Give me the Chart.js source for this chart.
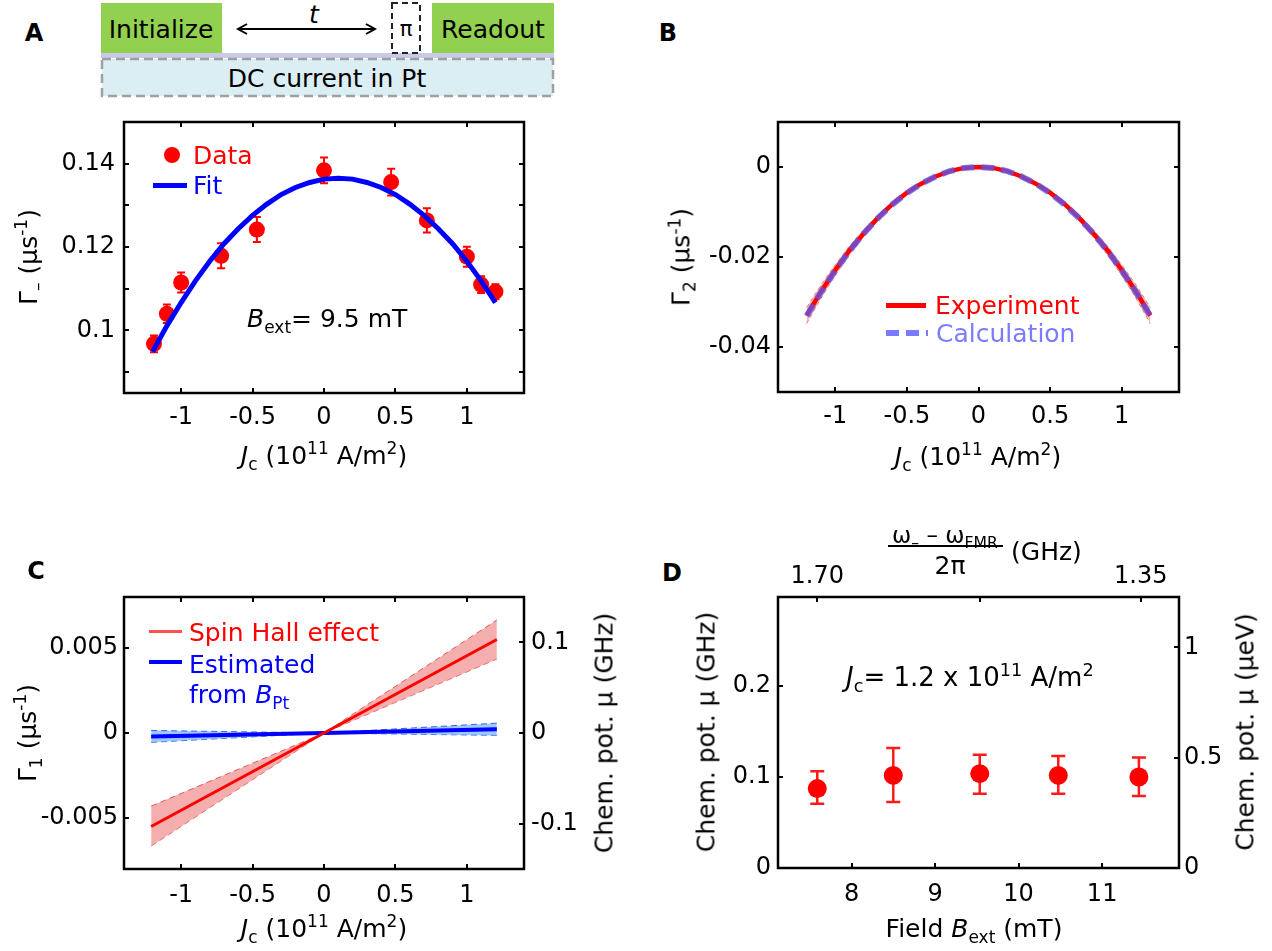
<!DOCTYPE html>
<html><head><meta charset="utf-8">
<script src="https://cdn.jsdelivr.net/npm/chart.js@4.4.1/dist/chart.umd.min.js"></script>
<style>
body{margin:0;background:#fff;}
#fig{position:relative;width:1272px;height:951px;overflow:hidden;font-family:'DejaVu Sans',sans-serif;color:#000;background:#fff;}
canvas{position:absolute;}
.t{position:absolute;white-space:nowrap;font-size:25px;line-height:1;}
.c{transform:translate(-50%,-50%);}
.r{transform:translate(-50%,-50%) rotate(-90deg);}
.lm{transform:translate(0,-50%);}
sub,sup{font-size:68%;line-height:0;}
.lab{font-weight:bold;font-size:24px;}
.ln{position:absolute;}
</style></head><body><div id="fig">

<!-- pulse sequence diagram -->
<svg style="position:absolute;left:0;top:0" width="640" height="110">
  <rect x="101" y="3" width="121" height="50" fill="#92d050"/>
  <rect x="432" y="3" width="122" height="50" fill="#92d050"/>
  <rect x="101" y="53" width="453" height="5" fill="#c9c9e9"/>
  <rect x="102" y="59" width="451" height="37" fill="#daeef3" stroke="#a0a0a0" stroke-width="2.5" stroke-dasharray="9,5"/>
  <rect x="392" y="3" width="28" height="50" fill="#fff" stroke="#222" stroke-width="2" stroke-dasharray="6,4"/>
  <line x1="238" y1="29" x2="375" y2="29" stroke="#000" stroke-width="2"/>
  <polyline points="247,24 238,29 247,34" fill="none" stroke="#000" stroke-width="2"/>
  <polyline points="366,24 375,29 366,34" fill="none" stroke="#000" stroke-width="2"/>
</svg>
<div class="t c" style="left:161px;top:29px;">Initialize</div>
<div class="t c" style="left:493px;top:29px;">Readout</div>
<div class="t c" style="left:406px;top:29px;font-size:21px;">π</div>
<div class="t c" style="left:314px;top:14px;font-style:italic;">t</div>
<div class="t c" style="left:327px;top:78px;">DC current in Pt</div>

<canvas id="cA" width="570" height="381" style="left:34px;top:62px"></canvas>
<canvas id="cB" width="571" height="380" style="left:688px;top:62px"></canvas>
<canvas id="cC" width="570" height="382" style="left:34px;top:537px"></canvas>
<canvas id="cD" width="571" height="381" style="left:688px;top:537px"></canvas>

<!-- panel letters -->
<div class="t c lab" style="left:34px;top:33px;">A</div>
<div class="t c lab" style="left:668px;top:33px;">B</div>
<div class="t c lab" style="left:36px;top:571px;">C</div>
<div class="t c lab" style="left:672px;top:573px;">D</div>

<!-- Panel A text -->
<div class="t r" style="left:28px;top:257px;">Γ<sub>–</sub> (μs<sup>-1</sup>)</div>
<div class="t c" style="left:324px;top:455px;"><i>J</i><sub>c</sub> (10<sup>11</sup> A/m<sup>2</sup>)</div>
<div class="t lm" style="left:247px;top:318px;"><i>B</i><sub>ext</sub>= 9.5 mT</div>
<div class="ln" style="left:164px;top:147px;width:16px;height:16px;border-radius:50%;background:#ff0000;"></div>
<div class="t lm" style="left:193px;top:155px;color:#ff0000;">Data</div>
<div class="ln" style="left:153px;top:183px;width:34px;height:5px;background:#0000ff;"></div>
<div class="t lm" style="left:193px;top:185px;color:#0000ff;">Fit</div>

<!-- Panel B text -->
<div class="t r" style="left:681px;top:257px;">Γ<sub>2</sub> (μs<sup>-1</sup>)</div>
<div class="t c" style="left:978px;top:456px;"><i>J</i><sub>c</sub> (10<sup>11</sup> A/m<sup>2</sup>)</div>
<div class="ln" style="left:886px;top:303px;width:40px;height:5px;background:#ff0000;"></div>
<div class="t lm" style="left:935px;top:305px;color:#ff0000;">Experiment</div>
<svg style="position:absolute;left:884px;top:328px" width="46" height="10"><line x1="2" y1="5" x2="44" y2="5" stroke="rgba(100,100,255,0.85)" stroke-width="6" stroke-dasharray="13,7"/></svg>
<div class="t lm" style="left:936px;top:333px;color:#7b7bff;">Calculation</div>

<!-- Panel C text -->
<div class="t r" style="left:27px;top:733px;">Γ<sub>1</sub> (μs<sup>-1</sup>)</div>
<div class="t r" style="left:604px;top:733px;">Chem. pot. μ (GHz)</div>
<div class="t c" style="left:324px;top:928px;"><i>J</i><sub>c</sub> (10<sup>11</sup> A/m<sup>2</sup>)</div>
<div class="ln" style="left:149px;top:630px;width:33px;height:3px;background:#ff5050;"></div>
<div class="t lm" style="left:189px;top:632px;color:#ff0000;">Spin Hall effect</div>
<div class="ln" style="left:149px;top:660px;width:33px;height:4px;background:#0000ff;"></div>
<div class="t lm" style="left:189px;top:664px;color:#0000ff;">Estimated</div>
<div class="t lm" style="left:189px;top:694px;color:#0000ff;">from <i>B</i><sub>Pt</sub></div>

<!-- Panel D text -->
<div class="t r" style="left:706px;top:732px;">Chem. pot. μ (GHz)</div>
<div class="t r" style="left:1245px;top:732px;">Chem. pot. μ (μeV)</div>
<div class="t c" style="left:974px;top:928px;">Field <i>B</i><sub>ext</sub> (mT)</div>
<div class="t lm" style="left:846px;top:677px;font-size:26px;"><i>J</i><sub>c</sub>= 1.2 x 10<sup>11</sup> A/m<sup>2</sup></div>
<div class="t c" style="left:945px;top:535px;font-size:23px;">ω<sub>–</sub> – ω<sub>FMR</sub></div>
<div class="ln" style="left:888px;top:545px;width:115px;height:2px;background:#000;"></div>
<div class="t c" style="left:950px;top:565px;">2π</div>
<div class="t lm" style="left:1011px;top:551px;">(GHz)</div>

</div>
<script>
const FONT = "'DejaVu Sans', sans-serif";
const TICK_SIZE = 24;

// ---------- Panel A : Gamma_- vs Jc ----------
const A_jc    = [-1.19, -1.10, -1.00, -0.72, -0.47, 0.00, 0.47, 0.72, 1.00, 1.10, 1.20];
const A_gamma = [0.0968, 0.1040, 0.1115, 0.1179, 0.1242, 0.1384, 0.1356, 0.1264, 0.1177, 0.1110, 0.1093];
const A_err   = [0.0020, 0.0022, 0.0024, 0.0030, 0.0030, 0.0031, 0.0032, 0.0029, 0.0024, 0.0020, 0.0018];
const A_fitJc = [-1.2,-1.1,-1.0,-0.9,-0.8,-0.7,-0.6,-0.5,-0.4,-0.3,-0.2,-0.1,0,0.1,0.2,0.3,0.4,0.5,0.6,0.7,0.8,0.9,1.0,1.1,1.2];
const A_fit   = [0.0949,0.1011,0.1067,0.1119,0.1166,0.1208,0.1244,0.1276,0.1303,0.1326,0.1343,0.1355,0.1363,0.1365,0.1363,0.1355,0.1343,0.1326,0.1303,0.1276,0.1244,0.1208,0.1166,0.1119,0.1067];
const A_xTicks = [-1, -0.5, 0, 0.5, 1];
const A_xLabels = ['-1', '-0.5', '0', '0.5', '1'];
const A_yTicks = [0.09, 0.10, 0.11, 0.12, 0.13, 0.14];
const A_yLabels = ['', '0.1', '', '0.12', '', '0.14'];

// ---------- Panel B : Gamma_2 vs Jc ----------
const B_jc   = [-1.2,-1.1,-1.0,-0.9,-0.8,-0.7,-0.6,-0.5,-0.4,-0.3,-0.2,-0.1,0,0.1,0.2,0.3,0.4,0.5,0.6,0.7,0.8,0.9,1.0,1.1,1.2];
const B_exp  = [-0.0330,-0.0277,-0.0229,-0.0185,-0.0147,-0.0112,-0.0082,-0.0057,-0.0037,-0.0021,-0.0009,-0.0002,0.0000,-0.0002,-0.0009,-0.0021,-0.0037,-0.0057,-0.0082,-0.0112,-0.0147,-0.0185,-0.0229,-0.0277,-0.0330];
const B_expHi= [-0.0312,-0.0262,-0.0217,-0.0175,-0.0139,-0.0106,-0.0077,-0.0053,-0.0034,-0.0019,-0.0007,-0.0001,0.0001,-0.0001,-0.0007,-0.0019,-0.0034,-0.0053,-0.0077,-0.0106,-0.0139,-0.0175,-0.0217,-0.0262,-0.0312];
const B_expLo= [-0.0348,-0.0292,-0.0241,-0.0195,-0.0155,-0.0118,-0.0087,-0.0061,-0.0040,-0.0023,-0.0011,-0.0003,-0.0001,-0.0003,-0.0011,-0.0023,-0.0040,-0.0061,-0.0087,-0.0118,-0.0155,-0.0195,-0.0241,-0.0292,-0.0348];
const B_calc = [-0.0331,-0.0278,-0.0230,-0.0186,-0.0147,-0.0113,-0.0083,-0.0058,-0.0037,-0.0021,-0.0009,-0.0002,0.0000,-0.0002,-0.0009,-0.0021,-0.0037,-0.0058,-0.0083,-0.0113,-0.0147,-0.0186,-0.0230,-0.0278,-0.0331];
const B_xTicks = [-1, -0.5, 0, 0.5, 1];
const B_xLabels = ['-1', '-0.5', '0', '0.5', '1'];
const B_yTicks = [-0.04, -0.02, 0];
const B_yLabels = ['-0.04', '-0.02', '0'];

// ---------- Panel C : Gamma_1 vs Jc ----------
const C_jc    = [-1.21, 0, 1.21];
const C_she   = [-0.00550, 0, 0.00550];
const C_sheLo = [-0.00665, 0, 0.00435];
const C_sheHi = [-0.00430, 0, 0.00665];
const C_bpt   = [-0.00020, 0, 0.00022];
const C_bptLo = [-0.00055, 0, -0.00014];
const C_bptHi = [0.00015, 0, 0.00058];
const C_xTicks = [-1, -0.5, 0, 0.5, 1];
const C_xLabels = ['-1', '-0.5', '0', '0.5', '1'];
const C_yTicks = [-0.005, 0, 0.005];
const C_yLabels = ['-0.005', '0', '0.005'];
const C_y2Ticks = [-0.1, 0, 0.1];
const C_y2Labels = ['-0.1', '0', '0.1'];

// ---------- Panel D : chemical potential vs field ----------
const D_field = [7.59, 8.50, 9.535, 10.475, 11.44];
const D_mu    = [0.0870, 0.1015, 0.1034, 0.1015, 0.0997];
const D_muLo  = [0.0705, 0.0723, 0.0815, 0.0815, 0.0790];
const D_muHi  = [0.1060, 0.1314, 0.1240, 0.1227, 0.1210];
const D_xTicks = [8, 9, 10, 11];
const D_xLabels = ['8', '9', '10', '11'];
const D_topTicks = [7.59, 9.535, 11.463];
const D_topLabels = ['1.70', '', '1.35'];
const D_yTicks = [0, 0.1, 0.2];
const D_yLabels = ['0', '0.1', '0.2'];
const D_y2Ticks = [0, 0.5, 1];
const D_y2Labels = ['0', '0.5', '1'];

const pts = (xs, ys) => xs.map((x, i) => ({x: x, y: ys[i]}));

function axis(pos, min, max, ticks, labels, size, pad) {
  const horiz = (pos === 'top' || pos === 'bottom');
  return {
    type: 'linear', position: pos, min: min, max: max,
    grid: {display: false, drawTicks: false},
    border: {display: false},
    ticks: {color: '#000', font: {family: FONT, size: TICK_SIZE}, padding: pad,
            autoSkip: false, maxRotation: 0, minRotation: 0,
            callback: (v, i) => labels[i]},
    afterBuildTicks: s => { s.ticks = ticks.map(v => ({value: v})); },
    afterFit: s => { if (horiz) s.height = size; else s.width = size; }
  };
}

const framePlugin = {
  id: 'frame',
  afterDraw(chart, args, o) {
    const ctx = chart.ctx, a = chart.chartArea, L = 5;
    ctx.save();
    ctx.strokeStyle = '#000';
    ctx.lineWidth = 2;
    (o.marks || []).forEach(m => {
      const s = chart.scales[m.scale];
      s.ticks.forEach(t => {
        const p = Math.round(s.getPixelForValue(t.value));
        ctx.beginPath();
        if (m.side === 'bottom') { ctx.moveTo(p, a.bottom); ctx.lineTo(p, a.bottom - L); }
        if (m.side === 'top')    { ctx.moveTo(p, a.top);    ctx.lineTo(p, a.top + L); }
        if (m.side === 'left')   { ctx.moveTo(a.left, p);   ctx.lineTo(a.left + L, p); }
        if (m.side === 'right')  { ctx.moveTo(a.right, p);  ctx.lineTo(a.right - L, p); }
        ctx.stroke();
      });
    });
    ctx.lineWidth = 2.5;
    ctx.strokeRect(a.left, a.top, a.right - a.left, a.bottom - a.top);
    ctx.restore();
  }
};

const errPlugin = {
  id: 'errbars',
  beforeDatasetsDraw(chart) {
    const ctx = chart.ctx;
    chart.data.datasets.forEach((ds, i) => {
      if (!ds.errLo) return;
      const meta = chart.getDatasetMeta(i);
      const xs = chart.scales[meta.xAxisID], ys = chart.scales[meta.yAxisID];
      ctx.save();
      ctx.strokeStyle = ds.errColor; ctx.lineWidth = ds.errWidth;
      ds.data.forEach((d, j) => {
        const x = xs.getPixelForValue(d.x);
        const y1 = ys.getPixelForValue(ds.errLo[j]), y2 = ys.getPixelForValue(ds.errHi[j]);
        const c = ds.capHalf;
        ctx.beginPath();
        ctx.moveTo(x, y1); ctx.lineTo(x, y2);
        ctx.moveTo(x - c, y1); ctx.lineTo(x + c, y1);
        ctx.moveTo(x - c, y2); ctx.lineTo(x + c, y2);
        ctx.stroke();
      });
      ctx.restore();
    });
  }
};

function baseOptions(scales, marks, padding) {
  return {
    responsive: false, animation: false, devicePixelRatio: 1,
    layout: {padding: padding},
    plugins: {legend: {display: false}, tooltip: {enabled: false}, frame: {marks: marks}},
    elements: {line: {tension: 0}},
    scales: scales
  };
}

// Panel A
new Chart(document.getElementById('cA'), {
  type: 'line',
  data: {datasets: [
    {data: pts(A_fitJc, A_fit), borderColor: '#0000ff', borderWidth: 5, pointRadius: 0, tension: 0, fill: false, order: 1},
    {data: pts(A_jc, A_gamma), showLine: false, pointRadius: 8, pointBackgroundColor: '#ff0000', pointBorderWidth: 0, borderColor: '#ff0000', order: 2,
     errLo: A_gamma.map((v, i) => v - A_err[i]), errHi: A_gamma.map((v, i) => v + A_err[i]), errColor: '#ff0000', errWidth: 2, capHalf: 4}
  ]},
  options: baseOptions({
    x: axis('bottom', -1.4, 1.4, A_xTicks, A_xLabels, 50, 10),
    y: axis('left', 0.085, 0.15, A_yTicks, A_yLabels, 90, 9)
  }, [{scale: 'x', side: 'bottom'}, {scale: 'x', side: 'top'}, {scale: 'y', side: 'left'}, {scale: 'y', side: 'right'}],
  {top: 60, right: 80, left: 0, bottom: 0}),
  plugins: [framePlugin, errPlugin]
});

// Panel B
new Chart(document.getElementById('cB'), {
  type: 'line',
  data: {datasets: [
    {data: pts(B_jc, B_expLo), borderColor: 'rgba(230,60,60,0.6)', borderWidth: 1, borderDash: [4, 3], pointRadius: 0, fill: false, order: 3},
    {data: pts(B_jc, B_expHi), borderColor: 'rgba(230,60,60,0.6)', borderWidth: 1, borderDash: [4, 3], pointRadius: 0, fill: '-1', backgroundColor: 'rgba(240,120,120,0.5)', order: 3},
    {data: pts(B_jc, B_exp), borderColor: '#ff0000', borderWidth: 4.5, pointRadius: 0, fill: false, order: 2},
    {data: pts(B_jc, B_calc), borderColor: 'rgba(90,90,240,0.75)', borderWidth: 6, borderDash: [13, 7], pointRadius: 0, fill: false, order: 1}
  ]},
  options: baseOptions({
    x: axis('bottom', -1.4, 1.4, B_xTicks, B_xLabels, 50, 10),
    y: axis('left', -0.05, 0.01, B_yTicks, B_yLabels, 90, 7)
  }, [{scale: 'x', side: 'bottom'}, {scale: 'x', side: 'top'}, {scale: 'y', side: 'left'}, {scale: 'y', side: 'right'}],
  {top: 60, right: 80, left: 0, bottom: 0}),
  plugins: [framePlugin, errPlugin]
});

// Panel C
new Chart(document.getElementById('cC'), {
  type: 'line',
  data: {datasets: [
    {data: pts(C_jc, C_sheLo), borderColor: 'rgba(220,40,40,0.7)', borderWidth: 1, borderDash: [6, 4], pointRadius: 0, fill: false, order: 6},
    {data: pts(C_jc, C_sheHi), borderColor: 'rgba(220,40,40,0.7)', borderWidth: 1, borderDash: [6, 4], pointRadius: 0, fill: '-1', backgroundColor: 'rgba(238,130,130,0.65)', order: 5},
    {data: pts(C_jc, C_bptLo), borderColor: 'rgba(20,60,230,0.8)', borderWidth: 1, borderDash: [6, 4], pointRadius: 0, fill: false, order: 4},
    {data: pts(C_jc, C_bptHi), borderColor: 'rgba(20,60,230,0.8)', borderWidth: 1, borderDash: [6, 4], pointRadius: 0, fill: '-1', backgroundColor: 'rgba(110,180,255,0.7)', order: 3},
    {data: pts(C_jc, C_bpt), borderColor: '#0000ff', borderWidth: 4, pointRadius: 0, fill: false, order: 2},
    {data: pts(C_jc, C_she), borderColor: '#ff0000', borderWidth: 3, pointRadius: 0, fill: false, order: 1}
  ]},
  options: baseOptions({
    x: axis('bottom', -1.4, 1.4, C_xTicks, C_xLabels, 50, 12),
    y: axis('left', -0.008, 0.008, C_yTicks, C_yLabels, 90, 6),
    y2: axis('right', -0.15, 0.15, C_y2Ticks, C_y2Labels, 80, 7)
  }, [{scale: 'x', side: 'bottom'}, {scale: 'x', side: 'top'}, {scale: 'y', side: 'left'}, {scale: 'y2', side: 'right'}],
  {top: 60, right: 0, left: 0, bottom: 0}),
  plugins: [framePlugin, errPlugin]
});

// Panel D
new Chart(document.getElementById('cD'), {
  type: 'line',
  data: {datasets: [
    {data: pts(D_field, D_mu), showLine: false, pointRadius: 9.5, pointBackgroundColor: '#ff0000', pointBorderWidth: 0, borderColor: '#ff0000',
     errLo: D_muLo, errHi: D_muHi, errColor: '#ff1a1a', errWidth: 2.5, capHalf: 7}
  ]},
  options: baseOptions({
    x: axis('bottom', 7.12, 11.92, D_xTicks, D_xLabels, 50, 12),
    x2: axis('top', 7.12, 11.92, D_topTicks, D_topLabels, 60, 6),
    y: axis('left', 0, 0.297, D_yTicks, D_yLabels, 90, 7),
    y2: axis('right', 0, 1.228, D_y2Ticks, D_y2Labels, 80, 5)
  }, [{scale: 'x', side: 'bottom'}, {scale: 'x2', side: 'top'}, {scale: 'y', side: 'left'}, {scale: 'y2', side: 'right'}],
  {top: 0, right: 0, left: 0, bottom: 0}),
  plugins: [framePlugin, errPlugin]
});
</script></body></html>
